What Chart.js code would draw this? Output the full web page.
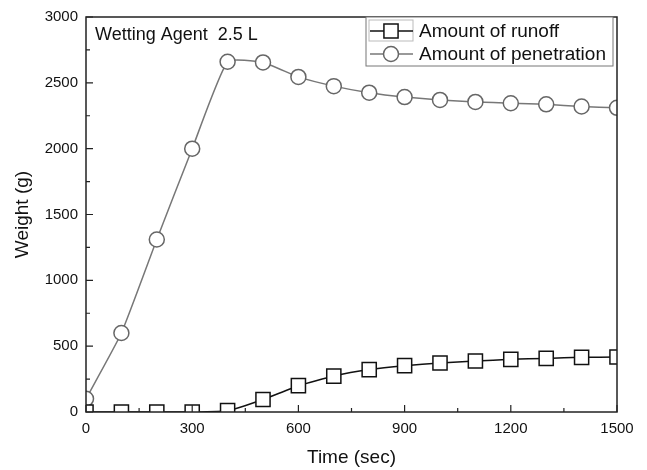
<!DOCTYPE html>
<html lang="en">
<head>
    <meta charset="UTF-8">
    <title>Wetting Agent 2.5 L</title>
    <script src="https://cdn.jsdelivr.net/npm/chart.js@4.4.1/dist/chart.umd.min.js"></script>
    <style>
        html, body { margin: 0; padding: 0; background: #fff; }
        #wrap { width: 647px; height: 470px; }
    </style>
</head>
<body>
    <div id="wrap"><canvas id="myChart"></canvas></div>

    <script>
        const times = [0, 100, 200, 300, 400, 500, 600, 700, 800, 900, 1000, 1100, 1200, 1300, 1400, 1500];
        const runoff = [0, 0, 0, 0, 10, 95, 200, 273, 322, 352, 372, 387, 400, 407, 415, 418];
        const penetration = [100, 600, 1310, 2000, 2660, 2655, 2545, 2475, 2425, 2392, 2370, 2355, 2345, 2337, 2320, 2310];
        const seriesNames = ['Amount of runoff', 'Amount of penetration'];
        const note = 'Wetting Agent  2.5 L';

        const font = 'Arial, "Liberation Sans", sans-serif';

        function toPoints(ys) {
            return times.map((t, i) => ({x: t, y: ys[i]}));
        }

        // frame, inward ticks, legend box and the note
        const decor = {
            id: 'decor',
            afterDatasetsDraw(chart) {
                const {ctx, chartArea: a, scales} = chart;
                ctx.save();
                ctx.strokeStyle = '#222';
                ctx.lineWidth = 1.5;
                ctx.strokeRect(a.left, a.top, a.right - a.left, a.bottom - a.top);

                ctx.lineWidth = 1.2;
                ctx.beginPath();
                for (let v = 0; v <= 1500; v += 150) {
                    const px = scales.x.getPixelForValue(v);
                    const len = v % 300 === 0 ? 7 : 4;
                    ctx.moveTo(px, a.bottom);
                    ctx.lineTo(px, a.bottom - len);
                }
                for (let v = 0; v <= 3000; v += 250) {
                    const py = scales.y.getPixelForValue(v);
                    const len = v % 500 === 0 ? 7 : 4;
                    ctx.moveTo(a.left, py);
                    ctx.lineTo(a.left + len, py);
                }
                ctx.stroke();

                ctx.fillStyle = '#111';
                ctx.font = '18px ' + font;
                ctx.textBaseline = 'middle';
                ctx.fillText(note, a.left + 9, a.top + 18);

                // legend
                const bx = 366, by = 17, bw = 247, bh = 49;
                ctx.fillStyle = '#fff';
                ctx.fillRect(bx, by, bw, bh);
                ctx.strokeStyle = '#777';
                ctx.lineWidth = 1;
                ctx.strokeRect(bx, by, bw, bh);
                ctx.strokeStyle = '#bbb';
                ctx.strokeRect(bx + 3, by + 3, 44, 21);

                chart.data.datasets.forEach((ds, i) => {
                    const cy = by + 14 + i * 23;
                    ctx.strokeStyle = ds.borderColor;
                    ctx.lineWidth = ds.borderWidth;
                    ctx.beginPath();
                    ctx.moveTo(bx + 4, cy);
                    ctx.lineTo(bx + 47, cy);
                    ctx.stroke();
                    ctx.fillStyle = '#fff';
                    ctx.strokeStyle = ds.pointBorderColor;
                    ctx.lineWidth = ds.pointBorderWidth;
                    ctx.beginPath();
                    if (ds.pointStyle === 'rect') {
                        const s = ds.pointRadius * Math.SQRT1_2;
                        ctx.rect(bx + 25 - s, cy - s, 2 * s, 2 * s);
                    } else {
                        ctx.arc(bx + 25, cy, ds.pointRadius, 0, Math.PI * 2);
                    }
                    ctx.fill();
                    ctx.stroke();
                    ctx.fillStyle = '#111';
                    ctx.font = '19px ' + font;
                    ctx.fillText(ds.label, bx + 53, cy + 1);
                });
                ctx.restore();
            }
        };

        const plain = v => String(v);

        const ctx = document.getElementById('myChart').getContext('2d');
        new Chart(ctx, {
            type: 'line',
            data: {
                datasets: [
                    {
                        label: seriesNames[0],
                        data: toPoints(runoff),
                        borderColor: '#111',
                        borderWidth: 1.5,
                        pointStyle: 'rect',
                        pointRadius: 10,
                        pointBorderWidth: 1.5,
                        pointBorderColor: '#111',
                        pointBackgroundColor: '#fff',
                        tension: 0.15,
                        clip: 0
                    },
                    {
                        label: seriesNames[1],
                        data: toPoints(penetration),
                        borderColor: '#777',
                        borderWidth: 1.5,
                        pointStyle: 'circle',
                        pointRadius: 7.5,
                        pointBorderWidth: 1.5,
                        pointBorderColor: '#666',
                        pointBackgroundColor: '#fff',
                        tension: 0.15,
                        clip: 0
                    }
                ]
            },
            options: {
                responsive: true,
                maintainAspectRatio: false,
                animation: false,
                layout: { padding: { top: 13, right: 30, left: 0, bottom: 0 } },
                plugins: { legend: { display: false }, tooltip: { enabled: false } },
                scales: {
                    x: {
                        type: 'linear',
                        min: 0,
                        max: 1500,
                        grid: { display: false, drawTicks: false },
                        border: { display: false },
                        ticks: { stepSize: 300, padding: 8, color: '#111', font: { size: 15, family: font }, callback: plain },
                        title: { display: true, text: 'Time (sec)', color: '#111', font: { size: 19, family: font }, padding: { top: 0, bottom: 1 } },
                        afterFit(scale) { scale.height = 58; }
                    },
                    y: {
                        min: 0,
                        max: 3000,
                        grid: { display: false, drawTicks: false },
                        border: { display: false },
                        ticks: { stepSize: 500, padding: 8, color: '#111', font: { size: 15, family: font }, callback: plain },
                        title: { display: true, text: 'Weight (g)', color: '#111', font: { size: 19, family: font }, padding: { top: 11, bottom: 0 } },
                        afterFit(scale) { scale.width = 86; }
                    }
                }
            },
            plugins: [decor]
        });
    </script>
</body>
</html>
